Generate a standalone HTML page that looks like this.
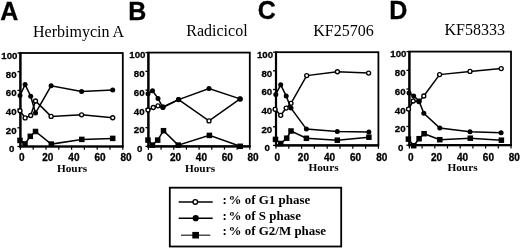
<!DOCTYPE html><html><head><meta charset="utf-8"><style>html,body{margin:0;padding:0;background:#fff;width:520px;height:249px;overflow:hidden}svg{display:block;filter:grayscale(100%) blur(0.25px)}.sans{font-family:"Liberation Sans",sans-serif;font-weight:bold;stroke:#000;stroke-width:0.3px}.serif{font-family:"Liberation Serif",serif}</style></head><body>
<svg width="520" height="249" viewBox="0 0 520 249">
<rect width="520" height="249" fill="#fff"/>
<text class="sans" x="0.3" y="20" font-size="25">A</text>
<text class="serif" x="33" y="36.6" font-size="16">Herbimycin A</text>
<rect x="20.4" y="53" width="102.4" height="93.5" fill="none" stroke="#000" stroke-width="1.8"/>
<line x1="20.4" y1="52.3" x2="20.4" y2="147.5" stroke="#000" stroke-width="2.2"/>
<line x1="19.4" y1="146.5" x2="123.5" y2="146.5" stroke="#000" stroke-width="2.2"/>
<line x1="17.4" y1="53.0" x2="20.4" y2="53.0" stroke="#000" stroke-width="1.3"/>
<text class="sans" x="17.5" y="58.8" font-size="9.7" text-anchor="end">100</text>
<line x1="17.4" y1="71.7" x2="20.4" y2="71.7" stroke="#000" stroke-width="1.3"/>
<text class="sans" x="16.599999999999998" y="77.5" font-size="9.7" text-anchor="end">80</text>
<line x1="17.4" y1="90.4" x2="20.4" y2="90.4" stroke="#000" stroke-width="1.3"/>
<text class="sans" x="16.599999999999998" y="96.19999999999999" font-size="9.7" text-anchor="end">60</text>
<line x1="17.4" y1="109.1" x2="20.4" y2="109.1" stroke="#000" stroke-width="1.3"/>
<text class="sans" x="16.599999999999998" y="114.89999999999999" font-size="9.7" text-anchor="end">40</text>
<line x1="17.4" y1="127.8" x2="20.4" y2="127.8" stroke="#000" stroke-width="1.3"/>
<text class="sans" x="16.599999999999998" y="133.6" font-size="9.7" text-anchor="end">20</text>
<line x1="17.4" y1="146.5" x2="20.4" y2="146.5" stroke="#000" stroke-width="1.3"/>
<text class="sans" x="14.299999999999999" y="152.3" font-size="9.7" text-anchor="end">0</text>
<line x1="20.4" y1="146.5" x2="20.4" y2="149.8" stroke="#000" stroke-width="1.2"/>
<text class="sans" x="21.70" y="160.5" font-size="10" text-anchor="middle">0</text>
<line x1="33.2" y1="146.5" x2="33.2" y2="149.8" stroke="#000" stroke-width="1.2"/>
<line x1="46.0" y1="146.5" x2="46.0" y2="149.8" stroke="#000" stroke-width="1.2"/>
<text class="sans" x="47.80" y="160.5" font-size="10" text-anchor="middle">20</text>
<line x1="58.800000000000004" y1="146.5" x2="58.800000000000004" y2="149.8" stroke="#000" stroke-width="1.2"/>
<line x1="71.6" y1="146.5" x2="71.6" y2="149.8" stroke="#000" stroke-width="1.2"/>
<text class="sans" x="73.90" y="160.5" font-size="10" text-anchor="middle">40</text>
<line x1="84.4" y1="146.5" x2="84.4" y2="149.8" stroke="#000" stroke-width="1.2"/>
<line x1="97.20000000000002" y1="146.5" x2="97.20000000000002" y2="149.8" stroke="#000" stroke-width="1.2"/>
<text class="sans" x="100.00" y="160.5" font-size="10" text-anchor="middle">60</text>
<line x1="110.0" y1="146.5" x2="110.0" y2="149.8" stroke="#000" stroke-width="1.2"/>
<line x1="122.80000000000001" y1="146.5" x2="122.80000000000001" y2="149.8" stroke="#000" stroke-width="1.2"/>
<text class="sans" x="126.10" y="160.5" font-size="10" text-anchor="middle">80</text>
<text class="serif" font-weight="bold" x="72" y="172" font-size="11.3" text-anchor="middle">Hours</text>
<polyline points="20,110.7 25.1,117.9 30.7,115.5 35.5,101 51.1,116.4 81.6,114.8 112.7,117.7" fill="none" stroke="#000" stroke-width="1.5"/>
<circle cx="20" cy="110.7" r="2.0" fill="#fff" stroke="#000" stroke-width="1.35"/>
<circle cx="25.1" cy="117.9" r="2.0" fill="#fff" stroke="#000" stroke-width="1.35"/>
<circle cx="30.7" cy="115.5" r="2.0" fill="#fff" stroke="#000" stroke-width="1.35"/>
<circle cx="35.5" cy="101" r="2.0" fill="#fff" stroke="#000" stroke-width="1.35"/>
<circle cx="51.1" cy="116.4" r="2.0" fill="#fff" stroke="#000" stroke-width="1.35"/>
<circle cx="81.6" cy="114.8" r="2.0" fill="#fff" stroke="#000" stroke-width="1.35"/>
<circle cx="112.7" cy="117.7" r="2.0" fill="#fff" stroke="#000" stroke-width="1.35"/>
<polyline points="20,95.5 25.1,84.6 30.7,96.2 35.5,113 51.1,85.8 81.6,91.4 112.7,89.9" fill="none" stroke="#000" stroke-width="1.5"/>
<circle cx="20" cy="95.5" r="2.5" fill="#000"/>
<circle cx="25.1" cy="84.6" r="2.5" fill="#000"/>
<circle cx="30.7" cy="96.2" r="2.5" fill="#000"/>
<circle cx="35.5" cy="113" r="2.5" fill="#000"/>
<circle cx="51.1" cy="85.8" r="2.5" fill="#000"/>
<circle cx="81.6" cy="91.4" r="2.5" fill="#000"/>
<circle cx="112.7" cy="89.9" r="2.5" fill="#000"/>
<polyline points="20.0,140.4 25,143.9 30.3,136.3 35.5,131.5 51.3,144.1 81.8,139.4 112.7,138.4" fill="none" stroke="#000" stroke-width="1.5"/>
<rect x="17.25" y="137.65" width="5.5" height="5.5" fill="#000"/>
<rect x="22.25" y="141.15" width="5.5" height="5.5" fill="#000"/>
<rect x="27.55" y="133.55" width="5.5" height="5.5" fill="#000"/>
<rect x="32.75" y="128.75" width="5.5" height="5.5" fill="#000"/>
<rect x="48.55" y="141.35" width="5.5" height="5.5" fill="#000"/>
<rect x="79.05" y="136.65" width="5.5" height="5.5" fill="#000"/>
<rect x="109.95" y="135.65" width="5.5" height="5.5" fill="#000"/>
<text class="sans" x="128.3" y="19.8" font-size="25">B</text>
<text class="serif" x="186.3" y="36.2" font-size="16">Radicicol</text>
<rect x="148.4" y="52.6" width="101.4" height="93.80000000000001" fill="none" stroke="#000" stroke-width="1.8"/>
<line x1="148.4" y1="51.9" x2="148.4" y2="147.4" stroke="#000" stroke-width="2.2"/>
<line x1="147.4" y1="146.4" x2="250.5" y2="146.4" stroke="#000" stroke-width="2.2"/>
<line x1="145.4" y1="52.6" x2="148.4" y2="52.6" stroke="#000" stroke-width="1.3"/>
<text class="sans" x="145.5" y="58.4" font-size="9.7" text-anchor="end">100</text>
<line x1="145.4" y1="71.36" x2="148.4" y2="71.36" stroke="#000" stroke-width="1.3"/>
<text class="sans" x="144.6" y="77.16" font-size="9.7" text-anchor="end">80</text>
<line x1="145.4" y1="90.12" x2="148.4" y2="90.12" stroke="#000" stroke-width="1.3"/>
<text class="sans" x="144.6" y="95.92" font-size="9.7" text-anchor="end">60</text>
<line x1="145.4" y1="108.88000000000001" x2="148.4" y2="108.88000000000001" stroke="#000" stroke-width="1.3"/>
<text class="sans" x="144.6" y="114.68" font-size="9.7" text-anchor="end">40</text>
<line x1="145.4" y1="127.64000000000001" x2="148.4" y2="127.64000000000001" stroke="#000" stroke-width="1.3"/>
<text class="sans" x="144.6" y="133.44" font-size="9.7" text-anchor="end">20</text>
<line x1="145.4" y1="146.4" x2="148.4" y2="146.4" stroke="#000" stroke-width="1.3"/>
<text class="sans" x="142.3" y="152.20000000000002" font-size="9.7" text-anchor="end">0</text>
<line x1="148.4" y1="146.4" x2="148.4" y2="149.70000000000002" stroke="#000" stroke-width="1.2"/>
<text class="sans" x="149.70" y="160.5" font-size="10" text-anchor="middle">0</text>
<line x1="161.07500000000002" y1="146.4" x2="161.07500000000002" y2="149.70000000000002" stroke="#000" stroke-width="1.2"/>
<line x1="173.75" y1="146.4" x2="173.75" y2="149.70000000000002" stroke="#000" stroke-width="1.2"/>
<text class="sans" x="175.55" y="160.5" font-size="10" text-anchor="middle">20</text>
<line x1="186.425" y1="146.4" x2="186.425" y2="149.70000000000002" stroke="#000" stroke-width="1.2"/>
<line x1="199.10000000000002" y1="146.4" x2="199.10000000000002" y2="149.70000000000002" stroke="#000" stroke-width="1.2"/>
<text class="sans" x="201.40" y="160.5" font-size="10" text-anchor="middle">40</text>
<line x1="211.775" y1="146.4" x2="211.775" y2="149.70000000000002" stroke="#000" stroke-width="1.2"/>
<line x1="224.45000000000002" y1="146.4" x2="224.45000000000002" y2="149.70000000000002" stroke="#000" stroke-width="1.2"/>
<text class="sans" x="227.25" y="160.5" font-size="10" text-anchor="middle">60</text>
<line x1="237.125" y1="146.4" x2="237.125" y2="149.70000000000002" stroke="#000" stroke-width="1.2"/>
<line x1="249.8" y1="146.4" x2="249.8" y2="149.70000000000002" stroke="#000" stroke-width="1.2"/>
<text class="sans" x="253.10" y="160.5" font-size="10" text-anchor="middle">80</text>
<text class="serif" font-weight="bold" x="200" y="171.6" font-size="11.3" text-anchor="middle">Hours</text>
<polyline points="148,110 153.3,107.5 158,105.8 162.9,107 178.6,99.6 209,120.9 240.1,98.9" fill="none" stroke="#000" stroke-width="1.5"/>
<circle cx="148" cy="110" r="2.0" fill="#fff" stroke="#000" stroke-width="1.35"/>
<circle cx="153.3" cy="107.5" r="2.0" fill="#fff" stroke="#000" stroke-width="1.35"/>
<circle cx="158" cy="105.8" r="2.0" fill="#fff" stroke="#000" stroke-width="1.35"/>
<circle cx="162.9" cy="107" r="2.0" fill="#fff" stroke="#000" stroke-width="1.35"/>
<circle cx="178.6" cy="99.6" r="2.0" fill="#fff" stroke="#000" stroke-width="1.35"/>
<circle cx="209" cy="120.9" r="2.0" fill="#fff" stroke="#000" stroke-width="1.35"/>
<circle cx="240.1" cy="98.9" r="2.0" fill="#fff" stroke="#000" stroke-width="1.35"/>
<polyline points="148,93.8 152.5,90.7 158,98.4 162.9,107.5 178.6,99.6 209,88.5 240.1,98.9" fill="none" stroke="#000" stroke-width="1.5"/>
<circle cx="148" cy="93.8" r="2.5" fill="#000"/>
<circle cx="152.5" cy="90.7" r="2.5" fill="#000"/>
<circle cx="158" cy="98.4" r="2.5" fill="#000"/>
<circle cx="162.9" cy="107.5" r="2.5" fill="#000"/>
<circle cx="178.6" cy="99.6" r="2.5" fill="#000"/>
<circle cx="209" cy="88.5" r="2.5" fill="#000"/>
<circle cx="240.1" cy="98.9" r="2.5" fill="#000"/>
<polyline points="148,140.1 152.4,145.1 157.7,140.1 163.5,130.7 178.2,145.1 209.4,135.4 240.2,146.3" fill="none" stroke="#000" stroke-width="1.5"/>
<rect x="145.25" y="137.35" width="5.5" height="5.5" fill="#000"/>
<rect x="149.65" y="142.35" width="5.5" height="5.5" fill="#000"/>
<rect x="154.95" y="137.35" width="5.5" height="5.5" fill="#000"/>
<rect x="160.75" y="127.94999999999999" width="5.5" height="5.5" fill="#000"/>
<rect x="175.45" y="142.35" width="5.5" height="5.5" fill="#000"/>
<rect x="206.65" y="132.65" width="5.5" height="5.5" fill="#000"/>
<rect x="237.45" y="143.55" width="5.5" height="5.5" fill="#000"/>
<text class="sans" x="257.8" y="19.1" font-size="25">C</text>
<text class="serif" x="313.2" y="35.7" font-size="16">KF25706</text>
<rect x="276" y="52.2" width="102.39999999999998" height="93.2" fill="none" stroke="#000" stroke-width="1.8"/>
<line x1="276" y1="51.5" x2="276" y2="146.4" stroke="#000" stroke-width="2.2"/>
<line x1="275" y1="145.4" x2="379.09999999999997" y2="145.4" stroke="#000" stroke-width="2.2"/>
<line x1="273" y1="52.2" x2="276" y2="52.2" stroke="#000" stroke-width="1.3"/>
<text class="sans" x="273.1" y="58.0" font-size="9.7" text-anchor="end">100</text>
<line x1="273" y1="70.84" x2="276" y2="70.84" stroke="#000" stroke-width="1.3"/>
<text class="sans" x="272.2" y="76.64" font-size="9.7" text-anchor="end">80</text>
<line x1="273" y1="89.48" x2="276" y2="89.48" stroke="#000" stroke-width="1.3"/>
<text class="sans" x="272.2" y="95.28" font-size="9.7" text-anchor="end">60</text>
<line x1="273" y1="108.12" x2="276" y2="108.12" stroke="#000" stroke-width="1.3"/>
<text class="sans" x="272.2" y="113.92" font-size="9.7" text-anchor="end">40</text>
<line x1="273" y1="126.76" x2="276" y2="126.76" stroke="#000" stroke-width="1.3"/>
<text class="sans" x="272.2" y="132.56" font-size="9.7" text-anchor="end">20</text>
<line x1="273" y1="145.4" x2="276" y2="145.4" stroke="#000" stroke-width="1.3"/>
<text class="sans" x="269.9" y="151.2" font-size="9.7" text-anchor="end">0</text>
<line x1="276.0" y1="145.4" x2="276.0" y2="148.70000000000002" stroke="#000" stroke-width="1.2"/>
<text class="sans" x="277.30" y="160.5" font-size="10" text-anchor="middle">0</text>
<line x1="288.8" y1="145.4" x2="288.8" y2="148.70000000000002" stroke="#000" stroke-width="1.2"/>
<line x1="301.6" y1="145.4" x2="301.6" y2="148.70000000000002" stroke="#000" stroke-width="1.2"/>
<text class="sans" x="303.40" y="160.5" font-size="10" text-anchor="middle">20</text>
<line x1="314.4" y1="145.4" x2="314.4" y2="148.70000000000002" stroke="#000" stroke-width="1.2"/>
<line x1="327.2" y1="145.4" x2="327.2" y2="148.70000000000002" stroke="#000" stroke-width="1.2"/>
<text class="sans" x="329.50" y="160.5" font-size="10" text-anchor="middle">40</text>
<line x1="340.0" y1="145.4" x2="340.0" y2="148.70000000000002" stroke="#000" stroke-width="1.2"/>
<line x1="352.79999999999995" y1="145.4" x2="352.79999999999995" y2="148.70000000000002" stroke="#000" stroke-width="1.2"/>
<text class="sans" x="355.60" y="160.5" font-size="10" text-anchor="middle">60</text>
<line x1="365.59999999999997" y1="145.4" x2="365.59999999999997" y2="148.70000000000002" stroke="#000" stroke-width="1.2"/>
<line x1="378.4" y1="145.4" x2="378.4" y2="148.70000000000002" stroke="#000" stroke-width="1.2"/>
<text class="sans" x="381.70" y="160.5" font-size="10" text-anchor="middle">80</text>
<text class="serif" font-weight="bold" x="323.5" y="171" font-size="11.3" text-anchor="middle">Hours</text>
<polyline points="275.1,109.3 280.7,115.3 286.2,108.1 291,103.3 306.7,75.6 337.4,71.7 368.6,73.1" fill="none" stroke="#000" stroke-width="1.5"/>
<circle cx="275.1" cy="109.3" r="2.0" fill="#fff" stroke="#000" stroke-width="1.35"/>
<circle cx="280.7" cy="115.3" r="2.0" fill="#fff" stroke="#000" stroke-width="1.35"/>
<circle cx="286.2" cy="108.1" r="2.0" fill="#fff" stroke="#000" stroke-width="1.35"/>
<circle cx="291" cy="103.3" r="2.0" fill="#fff" stroke="#000" stroke-width="1.35"/>
<circle cx="306.7" cy="75.6" r="2.0" fill="#fff" stroke="#000" stroke-width="1.35"/>
<circle cx="337.4" cy="71.7" r="2.0" fill="#fff" stroke="#000" stroke-width="1.35"/>
<circle cx="368.6" cy="73.1" r="2.0" fill="#fff" stroke="#000" stroke-width="1.35"/>
<polyline points="275.8,94.4 280.7,84.8 286.2,96 291,108.1 306.4,129.1 337.3,131.4 368.9,132.1" fill="none" stroke="#000" stroke-width="1.5"/>
<circle cx="275.8" cy="94.4" r="2.5" fill="#000"/>
<circle cx="280.7" cy="84.8" r="2.5" fill="#000"/>
<circle cx="286.2" cy="96" r="2.5" fill="#000"/>
<circle cx="291" cy="108.1" r="2.5" fill="#000"/>
<circle cx="306.4" cy="129.1" r="2.5" fill="#000"/>
<circle cx="337.3" cy="131.4" r="2.5" fill="#000"/>
<circle cx="368.9" cy="132.1" r="2.5" fill="#000"/>
<polyline points="275.5,139.4 280.7,143.5 286.7,138.2 291,131 306.4,138.3 337.3,140.2 368.9,137.2" fill="none" stroke="#000" stroke-width="1.5"/>
<rect x="272.75" y="136.65" width="5.5" height="5.5" fill="#000"/>
<rect x="277.95" y="140.75" width="5.5" height="5.5" fill="#000"/>
<rect x="283.95" y="135.45" width="5.5" height="5.5" fill="#000"/>
<rect x="288.25" y="128.25" width="5.5" height="5.5" fill="#000"/>
<rect x="303.65" y="135.55" width="5.5" height="5.5" fill="#000"/>
<rect x="334.55" y="137.45" width="5.5" height="5.5" fill="#000"/>
<rect x="366.15" y="134.45" width="5.5" height="5.5" fill="#000"/>
<text class="sans" x="389.3" y="19.3" font-size="25">D</text>
<text class="serif" x="444.5" y="35.2" font-size="16">KF58333</text>
<rect x="409.4" y="51.6" width="101.60000000000002" height="93.6" fill="none" stroke="#000" stroke-width="1.8"/>
<line x1="409.4" y1="50.9" x2="409.4" y2="146.2" stroke="#000" stroke-width="2.2"/>
<line x1="408.4" y1="145.2" x2="511.7" y2="145.2" stroke="#000" stroke-width="2.2"/>
<line x1="406.4" y1="51.6" x2="409.4" y2="51.6" stroke="#000" stroke-width="1.3"/>
<text class="sans" x="406.5" y="57.4" font-size="9.7" text-anchor="end">100</text>
<line x1="406.4" y1="70.32" x2="409.4" y2="70.32" stroke="#000" stroke-width="1.3"/>
<text class="sans" x="405.59999999999997" y="76.12" font-size="9.7" text-anchor="end">80</text>
<line x1="406.4" y1="89.03999999999999" x2="409.4" y2="89.03999999999999" stroke="#000" stroke-width="1.3"/>
<text class="sans" x="405.59999999999997" y="94.84" font-size="9.7" text-anchor="end">60</text>
<line x1="406.4" y1="107.75999999999999" x2="409.4" y2="107.75999999999999" stroke="#000" stroke-width="1.3"/>
<text class="sans" x="405.59999999999997" y="113.56" font-size="9.7" text-anchor="end">40</text>
<line x1="406.4" y1="126.47999999999999" x2="409.4" y2="126.47999999999999" stroke="#000" stroke-width="1.3"/>
<text class="sans" x="405.59999999999997" y="132.28" font-size="9.7" text-anchor="end">20</text>
<line x1="406.4" y1="145.2" x2="409.4" y2="145.2" stroke="#000" stroke-width="1.3"/>
<text class="sans" x="403.29999999999995" y="151.0" font-size="9.7" text-anchor="end">0</text>
<line x1="409.4" y1="145.2" x2="409.4" y2="148.5" stroke="#000" stroke-width="1.2"/>
<text class="sans" x="410.70" y="160.5" font-size="10" text-anchor="middle">0</text>
<line x1="422.09999999999997" y1="145.2" x2="422.09999999999997" y2="148.5" stroke="#000" stroke-width="1.2"/>
<line x1="434.79999999999995" y1="145.2" x2="434.79999999999995" y2="148.5" stroke="#000" stroke-width="1.2"/>
<text class="sans" x="436.60" y="160.5" font-size="10" text-anchor="middle">20</text>
<line x1="447.5" y1="145.2" x2="447.5" y2="148.5" stroke="#000" stroke-width="1.2"/>
<line x1="460.2" y1="145.2" x2="460.2" y2="148.5" stroke="#000" stroke-width="1.2"/>
<text class="sans" x="462.50" y="160.5" font-size="10" text-anchor="middle">40</text>
<line x1="472.9" y1="145.2" x2="472.9" y2="148.5" stroke="#000" stroke-width="1.2"/>
<line x1="485.6" y1="145.2" x2="485.6" y2="148.5" stroke="#000" stroke-width="1.2"/>
<text class="sans" x="488.40" y="160.5" font-size="10" text-anchor="middle">60</text>
<line x1="498.3" y1="145.2" x2="498.3" y2="148.5" stroke="#000" stroke-width="1.2"/>
<line x1="511.0" y1="145.2" x2="511.0" y2="148.5" stroke="#000" stroke-width="1.2"/>
<text class="sans" x="514.30" y="160.5" font-size="10" text-anchor="middle">80</text>
<text class="serif" font-weight="bold" x="462.5" y="170.5" font-size="11.3" text-anchor="middle">Hours</text>
<polyline points="408.5,109.1 413.2,101 419,101.5 423.8,96 439.6,74.6 470,71.4 501.2,68.6" fill="none" stroke="#000" stroke-width="1.5"/>
<circle cx="408.5" cy="109.1" r="2.0" fill="#fff" stroke="#000" stroke-width="1.35"/>
<circle cx="413.2" cy="101" r="2.0" fill="#fff" stroke="#000" stroke-width="1.35"/>
<circle cx="419" cy="101.5" r="2.0" fill="#fff" stroke="#000" stroke-width="1.35"/>
<circle cx="423.8" cy="96" r="2.0" fill="#fff" stroke="#000" stroke-width="1.35"/>
<circle cx="439.6" cy="74.6" r="2.0" fill="#fff" stroke="#000" stroke-width="1.35"/>
<circle cx="470" cy="71.4" r="2.0" fill="#fff" stroke="#000" stroke-width="1.35"/>
<circle cx="501.2" cy="68.6" r="2.0" fill="#fff" stroke="#000" stroke-width="1.35"/>
<polyline points="409,93 413.7,95.9 419,101 423.8,113.3 439.8,128.1 470,131.8 501.1,132.7" fill="none" stroke="#000" stroke-width="1.5"/>
<circle cx="409" cy="93" r="2.5" fill="#000"/>
<circle cx="413.7" cy="95.9" r="2.5" fill="#000"/>
<circle cx="419" cy="101" r="2.5" fill="#000"/>
<circle cx="423.8" cy="113.3" r="2.5" fill="#000"/>
<circle cx="439.8" cy="128.1" r="2.5" fill="#000"/>
<circle cx="470" cy="131.8" r="2.5" fill="#000"/>
<circle cx="501.1" cy="132.7" r="2.5" fill="#000"/>
<polyline points="408.4,139.1 413.7,145.7 419.1,138.7 424.1,133.7 439.8,139.7 470.3,138.2 501.4,140.2" fill="none" stroke="#000" stroke-width="1.5"/>
<rect x="405.65" y="136.35" width="5.5" height="5.5" fill="#000"/>
<rect x="410.95" y="142.95" width="5.5" height="5.5" fill="#000"/>
<rect x="416.35" y="135.95" width="5.5" height="5.5" fill="#000"/>
<rect x="421.35" y="130.95" width="5.5" height="5.5" fill="#000"/>
<rect x="437.05" y="136.95" width="5.5" height="5.5" fill="#000"/>
<rect x="467.55" y="135.45" width="5.5" height="5.5" fill="#000"/>
<rect x="498.65" y="137.45" width="5.5" height="5.5" fill="#000"/>
<rect x="169.8" y="187.7" width="171.4" height="58.8" fill="none" stroke="#000" stroke-width="1.8"/>
<line x1="178.7" y1="201.9" x2="212.7" y2="201.9" stroke="#000" stroke-width="1.5"/>
<circle cx="195.3" cy="201.9" r="2.3" fill="#fff" stroke="#000" stroke-width="1.4"/>
<line x1="178.7" y1="218.2" x2="212.7" y2="218.2" stroke="#000" stroke-width="1.5"/>
<circle cx="195.7" cy="218.2" r="3.1" fill="#000"/>
<line x1="181" y1="235.2" x2="210.3" y2="235.2" stroke="#222" stroke-width="1.2"/>
<rect x="192.3" y="231.89999999999998" width="6.7" height="6.6" fill="#000"/>
<text class="serif" font-weight="bold" transform="translate(222.6,204.2) scale(1.08,1)" x="0" y="0" font-size="12">:<tspan dx="-1.4"> % of G1 phase</tspan></text>
<text class="serif" font-weight="bold" transform="translate(222.6,220) scale(1.08,1)" x="0" y="0" font-size="12">:<tspan dx="-1.4"> % of S phase</tspan></text>
<text class="serif" font-weight="bold" transform="translate(222.6,235) scale(1.08,1)" x="0" y="0" font-size="12">:<tspan dx="-1.4"> % of G2/M phase</tspan></text>
</svg></body></html>
